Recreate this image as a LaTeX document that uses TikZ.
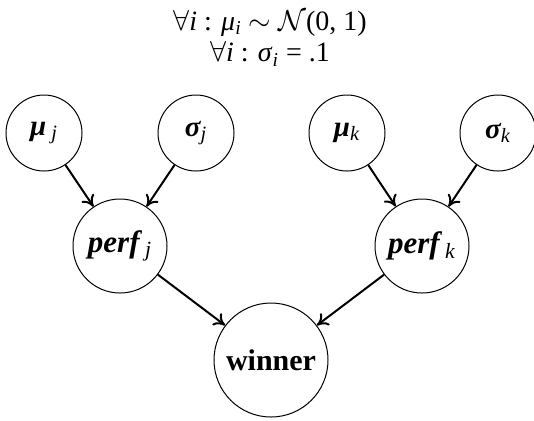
\documentclass[tikz,border=0pt]{standalone}
\usepackage{fontspec}
\setmainfont{Liberation Serif}
\usetikzlibrary{arrows.meta}
\newcommand{\bsym}[2]{{\bfseries\itshape #1}\textsubscript{\itshape #2}}
\tikzset{
  var/.style={circle,draw,line width=0.5pt,inner sep=0pt,font=\fontsize{14.5}{17}\selectfont},
  small/.style={var,minimum size=38pt},
  mid/.style={var,minimum size=47pt,font=\fontsize{15.5}{17}\selectfont},
  big/.style={var,minimum size=57pt},
  edge/.style={line width=1pt,-{To[length=5.5pt,width=7.5pt]}},
  prior/.style={inner sep=0pt,font=\fontsize{14}{15}\selectfont}
}
\begin{document}
\begin{tikzpicture}[x=0.5pt,y=-0.5pt]
\useasboundingbox (0,0) rectangle (534,420);
\node[prior] (prior) at (270,23)
  {$\forall$\textit{i} : \textit{μ}\textsubscript{\textit{i}} $\sim$ $\mathcal{N}$(0, 1)};
\node[prior] (prior2) at (270,54)
  {$\forall$\textit{i} : \textit{σ}\textsubscript{\textit{i}} = .1};
\node[small] (muj) at (44,133) {\bsym{μ}{ j}};
\node[small] (sj) at (196,133) {\bsym{σ}{j}};
\node[small] (muk) at (347,133) {\bsym{μ}{k}};
\node[small] (sk) at (498,133) {\bsym{σ}{k}};
\node[mid] (pj) at (120,246) {\bsym{perf}{ j}};
\node[mid] (pk) at (422,246) {\bsym{perf}{ k}};
\node[big,font=\fontsize{15}{17}\selectfont\bfseries] (w) at (271,360) {winner};
\draw[edge] (muj) -- (pj);
\draw[edge] (sj) -- (pj);
\draw[edge] (muk) -- (pk);
\draw[edge] (sk) -- (pk);
\draw[edge] (pj) -- (w);
\draw[edge] (pk) -- (w);
\end{tikzpicture}
\end{document}
